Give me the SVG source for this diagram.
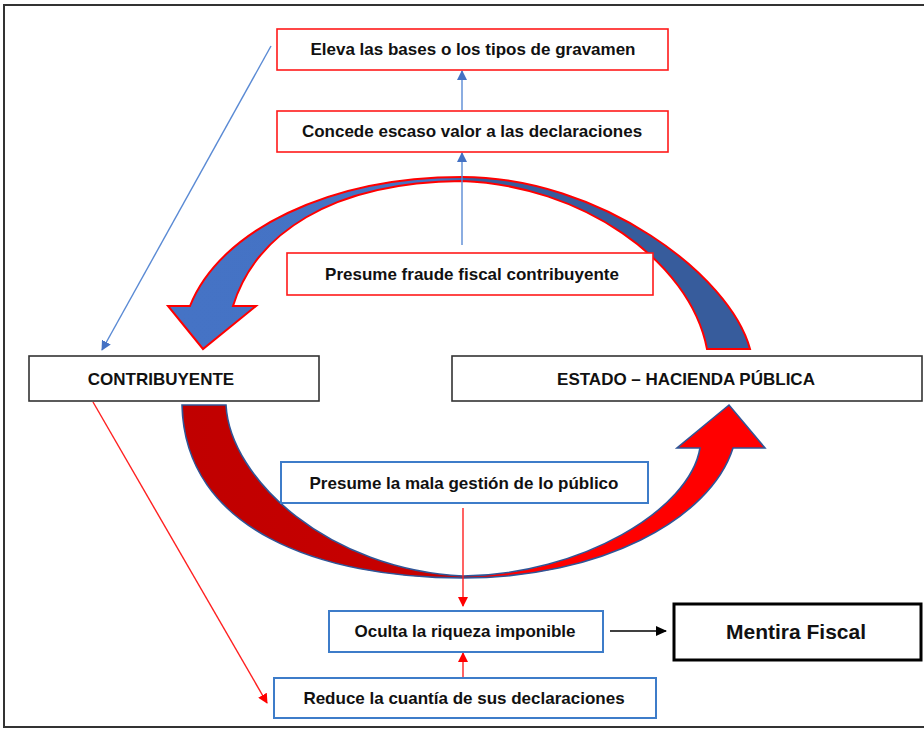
<svg xmlns="http://www.w3.org/2000/svg" width="924" height="730" viewBox="0 0 924 730">
<style>
.box{fill:#fff}
.red{stroke:#ff1a1a;stroke-width:1.6}
.blue{stroke:#3d7cc9;stroke-width:2}
.blk{stroke:#333;stroke-width:1.6}
.t{font-family:"Liberation Sans",Arial,sans-serif;font-size:17px;font-weight:bold;fill:#111;text-anchor:middle}
.cb{fill:none;stroke:#5a8ad4;stroke-width:1.4}
.cr{fill:none;stroke:#ff2020;stroke-width:1.4}
</style>
<defs>
<marker id="ab" markerWidth="10" markerHeight="10" refX="9" refY="5" orient="auto" markerUnits="userSpaceOnUse"><path d="M0,0 L10,5 L0,10 Z" fill="#4472c4"/></marker>
<marker id="ar" markerWidth="10" markerHeight="10" refX="9" refY="5" orient="auto" markerUnits="userSpaceOnUse"><path d="M0,0 L10,5 L0,10 Z" fill="#ff0000"/></marker>
<marker id="ak" markerWidth="11" markerHeight="10" refX="10" refY="5" orient="auto" markerUnits="userSpaceOnUse"><path d="M0,0 L11,5 L0,10 Z" fill="#000"/></marker>
<linearGradient id="gb" x1="0" y1="0" x2="1" y2="0"><stop offset="0" stop-color="#4573c5"/><stop offset="0.47" stop-color="#4472c4"/><stop offset="0.53" stop-color="#375c9c"/><stop offset="1" stop-color="#375c9c"/></linearGradient>
<linearGradient id="gr" x1="0" y1="0" x2="1" y2="0"><stop offset="0" stop-color="#c00000"/><stop offset="0.45" stop-color="#c80000"/><stop offset="0.55" stop-color="#ff0000"/><stop offset="1" stop-color="#ff0000"/></linearGradient>
</defs>
<rect x="4" y="5" width="940" height="722" fill="#fff" stroke="#333" stroke-width="2"/>

<g id="curved-arrows">
<path d="M750,349 C730,275 600,177 462,177 C330,177 220,230 190,306 L168,306 L203,349 L256,306 L233,306 C255,235 330,182 462,181 C580,185 690,260 707,349 Z" fill="url(#gb)" stroke="#ff0000" stroke-width="2" stroke-linejoin="miter"/>
<path d="M182,405 C185,530 320,578 463,578 C600,578 710,520 733,448 L765,448 L729,405 L677,448 L700,448 C690,510 580,575 463,576 C330,570 230,480 226,405 Z" fill="url(#gr)" stroke="#2f5597" stroke-width="1.6"/>
</g>

<g id="connectors">
<line x1="462" y1="110" x2="462" y2="71" class="cb" marker-end="url(#ab)"/>
<line x1="462" y1="245" x2="462" y2="153" class="cb" marker-end="url(#ab)"/>
<line x1="271" y1="46" x2="102" y2="350" class="cb" marker-end="url(#ab)"/>
<line x1="93" y1="402" x2="267" y2="703" class="cr" marker-end="url(#ar)"/>
<line x1="463" y1="508" x2="463" y2="606" class="cr" marker-end="url(#ar)"/>
<line x1="463" y1="678" x2="463" y2="653" class="cr" marker-end="url(#ar)"/>
<line x1="610" y1="631" x2="666" y2="631" stroke="#000" stroke-width="1.4" marker-end="url(#ak)"/>
</g>

<g id="n-eleva"><rect x="277" y="29" width="391" height="41" class="box red"/><text x="473" y="55" class="t">Eleva las bases o los tipos de gravamen</text></g>
<g id="n-concede"><rect x="277" y="111" width="391" height="41" class="box red"/><text x="472" y="137" class="t">Concede escaso valor a las declaraciones</text></g>
<g id="n-fraude"><rect x="287" y="253" width="366" height="42" class="box red"/><text x="472" y="280" class="t">Presume fraude fiscal contribuyente</text></g>
<g id="n-contribuyente"><rect x="29" y="356" width="290" height="45" class="box blk"/><text x="161" y="385" class="t">CONTRIBUYENTE</text></g>
<g id="n-estado"><rect x="452" y="356" width="470" height="45" class="box blk"/><text x="686" y="385" class="t">ESTADO – HACIENDA PÚBLICA</text></g>
<g id="n-gestion"><rect x="281" y="462" width="367" height="41" class="box blue"/><text x="464" y="489" class="t">Presume la mala gestión de lo público</text></g>
<g id="n-oculta"><rect x="329" y="611" width="274" height="41" class="box blue"/><text x="465" y="637" class="t">Oculta la riqueza imponible</text></g>
<g id="n-reduce"><rect x="274" y="678" width="382" height="40" class="box blue"/><text x="464" y="704" class="t">Reduce la cuantía de sus declaraciones</text></g>
<g id="n-mentira"><rect x="674" y="604" width="247" height="56" fill="#fff" stroke="#000" stroke-width="3"/><text x="796" y="639" class="t" style="font-size:21px">Mentira Fiscal</text></g>
</svg>
